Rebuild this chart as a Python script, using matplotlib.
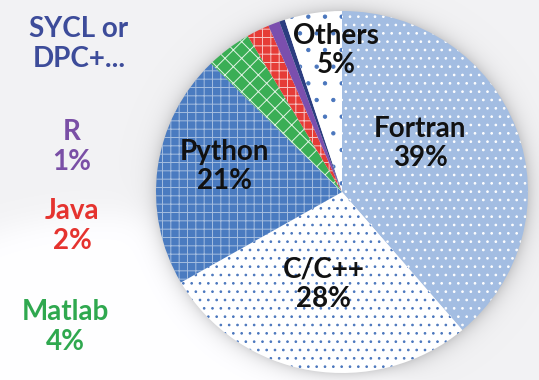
import numpy as np
import matplotlib
matplotlib.use("Agg")
import matplotlib.pyplot as plt

# Survey shares (percent) of programming languages
languages = ["Fortran", "C/C++", "Python", "Matlab", "Java", "R", "SYCL or\nDPC+...", "Others"]
shares = [39, 28, 21, 4, 2, 1, 0.5, 5]
pct_labels = ["39%", "28%", "21%", "4%", "2%", "1%", "", "5%"]

# Slice styling
face_colors = ["#a3bde2", "#ffffff", "#4a7bc0", "#3aae55", "#e63c37", "#7b4fae", "#2c3d80", "#ffffff"]
hatch_colors = ["#ffffff", "#4a76bd", (1, 1, 1, 0.5), (1, 1, 1, 0.85), (1, 1, 1, 0.7), None, None, "#4a76bd"]
hatches = ["..", "..", "++", "xx", "++", "", "", "."]
text_colors = ["#111111", "#111111", "#111111", "#2fa84f", "#e5332f", "#7a4fa6", "#3d4c9a", "#111111"]

W, H = 539, 380
plt.rcParams["hatch.linewidth"] = 0.7
plt.rcParams["font.family"] = ["Lato", "DejaVu Sans"]

fig = plt.figure(figsize=(W / 100, H / 100), dpi=100)

# Pie geometry in pixels (center, horizontal / vertical radius)
cx, cy, rx, ry = 342, 192, 186, 181

# Background: pale grey with a white lobe at lower left, plus a soft glow around the pie
yy, xx = np.mgrid[0:H, 0:W].astype(float)
lobe = np.sqrt(((xx - 110) / 300) ** 2 + ((yy - 450) / 235) ** 2)
white_mix = 1 / (1 + np.exp((lobe - 1) * 25))
base = 0.950 + 0.050 * white_mix
d = np.sqrt(((xx - cx) / rx) ** 2 + ((yy - cy) / ry) ** 2)
out_px = np.clip((d - 1) * 183, 0, None)
glow = np.exp(-out_px / 8.0) * (d >= 0.98)
gray = base - 0.15 * glow
img = np.dstack([gray, gray, gray * 1.004 + 0.004]).clip(0, 1)
bg = fig.add_axes([0, 0, 1, 1])
bg.imshow(img, extent=[0, W, H, 0], aspect="auto", interpolation="bilinear")
bg.set_axis_off()

ax = fig.add_axes([(cx - rx) / W, 1 - (cy + ry) / H, 2 * rx / W, 2 * ry / H])
ax.set_facecolor("none")
wedges, _ = ax.pie(shares, colors=face_colors, startangle=90, counterclock=False,
                   radius=1, center=(0, 0), wedgeprops=dict(linewidth=0))
for w, h, hc in zip(wedges, hatches, hatch_colors):
    if h:
        w.set_hatch(h)
        w.set_edgecolor(hc)
    w.set_linewidth(0)
ax.set_xlim(-1, 1)
ax.set_ylim(-1, 1)
ax.set_aspect("auto")
ax.set_axis_off()

# Labels inside the large slices (axes data coordinates, pie radius = 1)
inner_pos = {"Fortran": (0.42, 0.27), "C/C++": (-0.10, -0.51),
             "Python": (-0.63, 0.14), "Others": (-0.03, 0.78)}
for name, pct in zip(languages, pct_labels):
    if name in inner_pos:
        x, y = inner_pos[name]
        ax.text(x, y, f"{name}\n{pct}", ha="center", va="center",
                fontsize=20, fontweight="bold", color="#111111", linespacing=1.15)

# Labels for the thin slices, stacked to the left of the pie
side_pos = {"SYCL or\nDPC+...": (79, 44), "R": (72, 147), "Java": (72, 226), "Matlab": (65, 327)}
for name, pct, col in zip(languages, pct_labels, text_colors):
    if name in side_pos:
        px, py = side_pos[name]
        txt = f"{name}\n{pct}" if pct else name
        fig.text(px / W, 1 - py / H, txt, ha="center", va="center", fontsize=20,
                 fontweight="bold", color=col, linespacing=1.15)

fig.savefig("out.png", dpi=100)
